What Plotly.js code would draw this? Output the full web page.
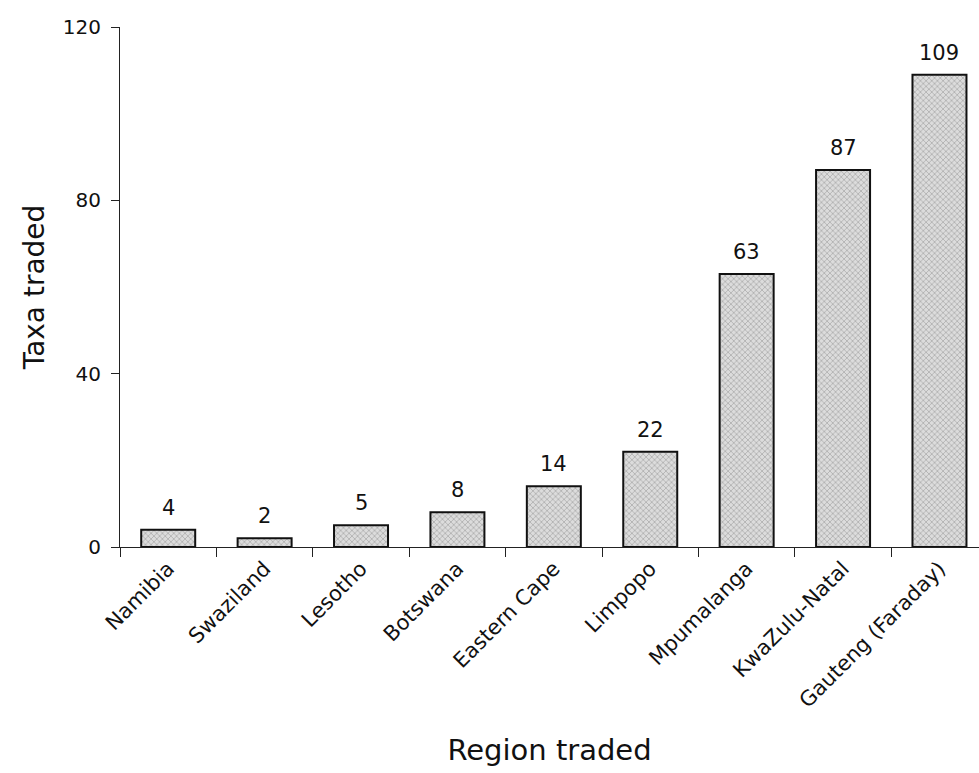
<!DOCTYPE html>
<html>
<head>
<meta charset="utf-8">
<script src="https://cdn.plot.ly/plotly-3.0.1.min.js"></script>
<style>
  html, body { margin: 0; padding: 0; background: #fff; }
  #chart { width: 979px; height: 773px; }
</style>
</head>
<body>
<div id="chart"></div>
<script>
// Number of taxa traded per region
const regions = ["Namibia", "Swaziland", "Lesotho", "Botswana", "Eastern Cape",
                 "Limpopo", "Mpumalanga", "KwaZulu-Natal", "Gauteng (Faraday)"];
const taxaTraded = [4, 2, 5, 8, 14, 22, 63, 87, 109];
const yTickValues = [0, 40, 80, 120];

const fontFamily = "'DejaVu Sans', Verdana, sans-serif";

const trace = {
  type: "bar",
  x: regions,
  y: taxaTraded,
  width: 0.56,
  marker: {
    color: "#d4d4d4",
    line: { color: "#111", width: 2 },
    pattern: { shape: "x", size: 4, solidity: 0.25, fgcolor: "#949494", bgcolor: "#dcdcdc", fillmode: "replace" }
  },
  hoverinfo: "x+y"
};

// Value labels placed just above each bar
const valueLabels = regions.map((r, i) => ({
  x: r,
  y: taxaTraded[i],
  xref: "x",
  yref: "y",
  text: String(taxaTraded[i]),
  showarrow: false,
  yanchor: "bottom",
  yshift: 8,
  font: { family: fontFamily, size: 21, color: "#111" }
}));

const layout = {
  width: 979,
  height: 773,
  margin: { l: 120, r: 0, t: 27, b: 226 },
  paper_bgcolor: "#fff",
  plot_bgcolor: "#fff",
  showlegend: false,
  font: { family: fontFamily, color: "#111" },
  annotations: valueLabels,
  xaxis: {
    type: "category",
    range: [-0.5, 8.41],
    showline: true,
    linecolor: "#222",
    linewidth: 1,
    ticks: "outside",
    tickson: "boundaries",
    ticklen: 9,
    tickcolor: "#222",
    tickangle: -45,
    tickfont: { family: fontFamily, size: 21, color: "#111" },
    showgrid: false,
    zeroline: false,
    title: { text: "Region traded", font: { family: fontFamily, size: 29, color: "#111" }, standoff: 28 }
  },
  yaxis: {
    range: [0, 120],
    tickvals: yTickValues,
    showline: true,
    linecolor: "#222",
    linewidth: 1,
    ticks: "outside",
    ticklen: 8,
    tickcolor: "#222",
    ticklabelstandoff: 6,
    tickfont: { family: fontFamily, size: 20, color: "#111" },
    showgrid: false,
    zeroline: false,
    title: { text: "Taxa traded", font: { family: fontFamily, size: 28, color: "#111" }, standoff: 10 }
  }
};

Plotly.newPlot("chart", [trace], layout, { displayModeBar: false, staticPlot: true });
</script>
</body>
</html>
